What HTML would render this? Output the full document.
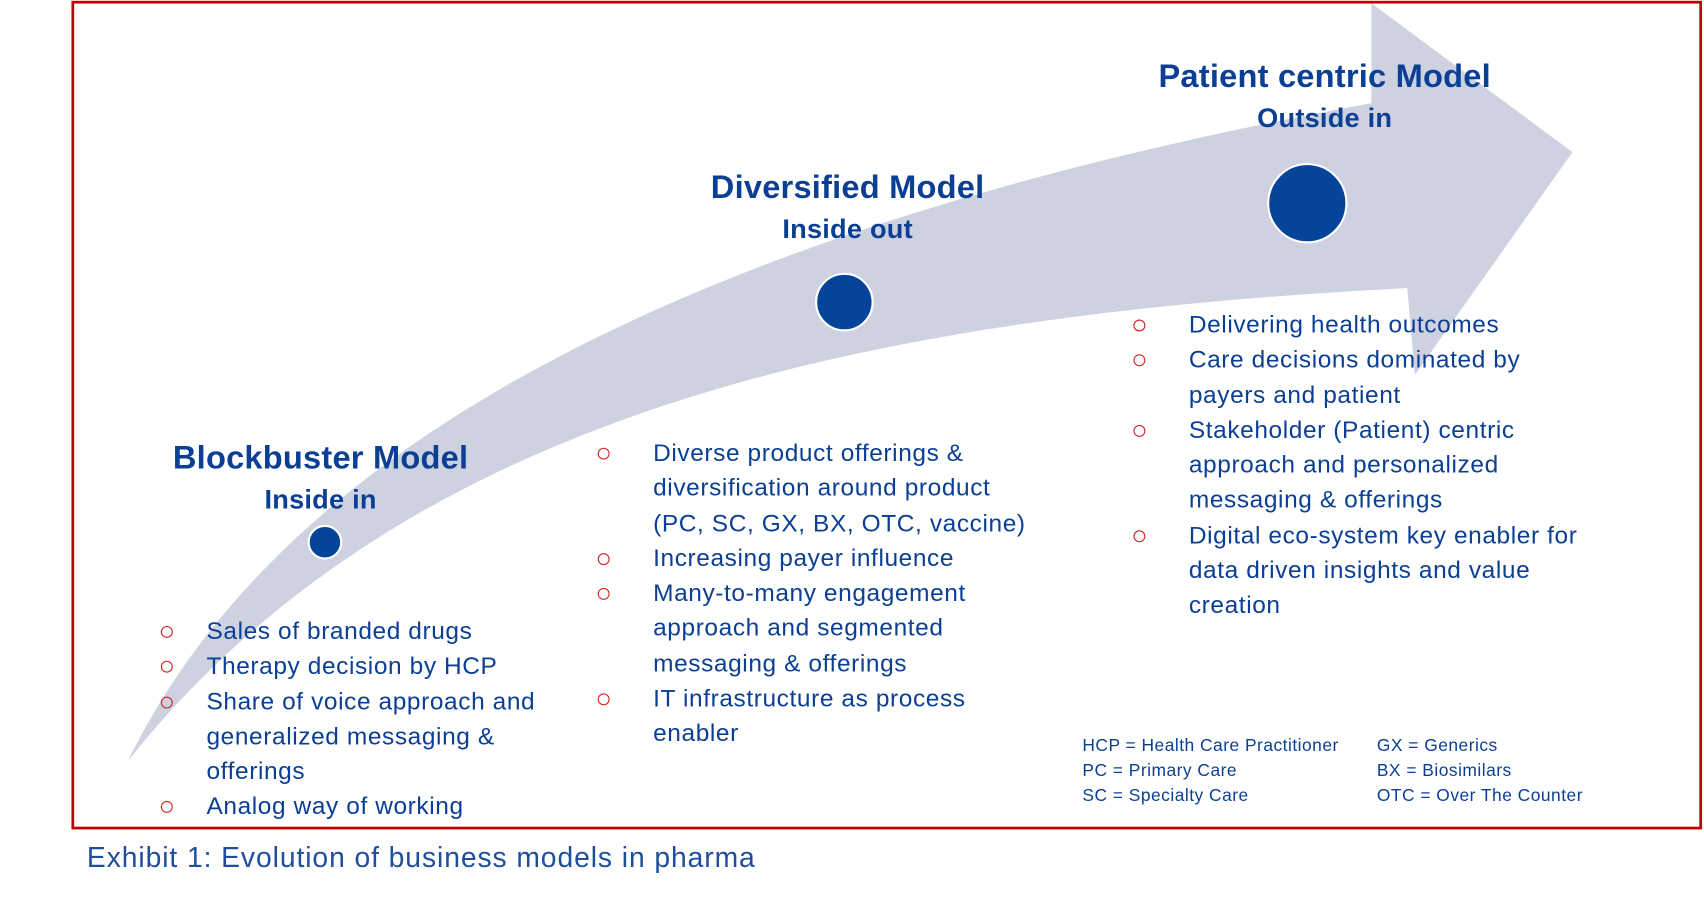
<!DOCTYPE html>
<html><head><meta charset="utf-8"><style>
html,body{margin:0;padding:0;background:#fff;width:1704px;height:897px;overflow:hidden}
#w{position:absolute;left:0;top:0;width:1568px;height:825px;transform:scale(1.0867);transform-origin:0 0;font-family:"Liberation Sans",sans-serif;color:#0b3f94}
.t{position:absolute;text-align:center;font-weight:bold;font-size:30px;line-height:37px;letter-spacing:0.2px}
.t span{font-size:25px}
ul{position:absolute;margin:0;padding:0;list-style:none;font-size:22.5px;line-height:32.3px;letter-spacing:0.55px;white-space:nowrap}
li{position:relative;padding-left:0}
li:before{content:"";position:absolute;left:-42px;top:11px;width:9px;height:9px;border:1.5px solid #d02020;border-radius:50%}
ul.m li:before{left:-51px}
li.c:before{display:none}
.s{position:absolute;font-size:16px;line-height:23px;letter-spacing:0.45px;white-space:nowrap}
</style></head><body><div id="w">
<svg width="1568" height="825" style="position:absolute;left:0;top:0">
<path d="M118,700 C230,470 520,230 1262,95 L1262,3 L1447,140 L1302,345 L1295,265 C820,290 380,370 118,700 Z" fill="#cdd1e0"/>
<rect x="67" y="2" width="1498" height="760" fill="none" stroke="#c00000" stroke-width="2.5"/>
<circle cx="299" cy="499" r="15" fill="#06439a" stroke="#fff" stroke-width="2"/>
<circle cx="777" cy="278" r="26" fill="#06439a" stroke="#fff" stroke-width="2"/>
<circle cx="1203" cy="187" r="36" fill="#06439a" stroke="#fff" stroke-width="2"/>
</svg>
<div class="t" style="left:1019px;top:52px;width:400px">Patient centric Model<br><span>Outside in</span></div>
<div class="t" style="left:580px;top:154px;width:400px">Diversified Model<br><span>Inside out</span></div>
<div class="t" style="left:95px;top:403px;width:400px">Blockbuster Model<br><span>Inside in</span></div>
<ul style="left:190px;top:565px;width:340px"><li>Sales of branded drugs</li><li>Therapy decision by HCP</li><li>Share of voice approach and</li><li class="c">generalized messaging &amp;</li><li class="c">offerings</li><li>Analog way of working</li></ul>
<ul class="m" style="left:601px;top:401px;width:360px"><li>Diverse product offerings &amp;</li><li class="c">diversification around product</li><li class="c">(PC, SC, GX, BX, OTC, vaccine)</li><li>Increasing payer influence</li><li>Many-to-many engagement</li><li class="c">approach and segmented</li><li class="c">messaging &amp; offerings</li><li>IT infrastructure as process</li><li class="c">enabler</li></ul>
<ul class="m" style="left:1094px;top:283px;width:400px"><li>Delivering health outcomes</li><li>Care decisions dominated by</li><li class="c">payers and patient</li><li>Stakeholder (Patient) centric</li><li class="c">approach and personalized</li><li class="c">messaging &amp; offerings</li><li>Digital eco-system key enabler for</li><li class="c">data driven insights and value</li><li class="c">creation</li></ul>
<div class="s" style="left:996px;top:675px">HCP = Health Care Practitioner<br>PC = Primary Care<br>SC = Specialty Care</div>
<div class="s" style="left:1267px;top:675px">GX = Generics<br>BX = Biosimilars<br>OTC = Over The Counter</div>
<div style="position:absolute;left:80px;top:774px;font-size:26px;letter-spacing:0.85px;color:#1f4e9a;white-space:nowrap">Exhibit 1: Evolution of business models in pharma</div>
</div></body></html>
